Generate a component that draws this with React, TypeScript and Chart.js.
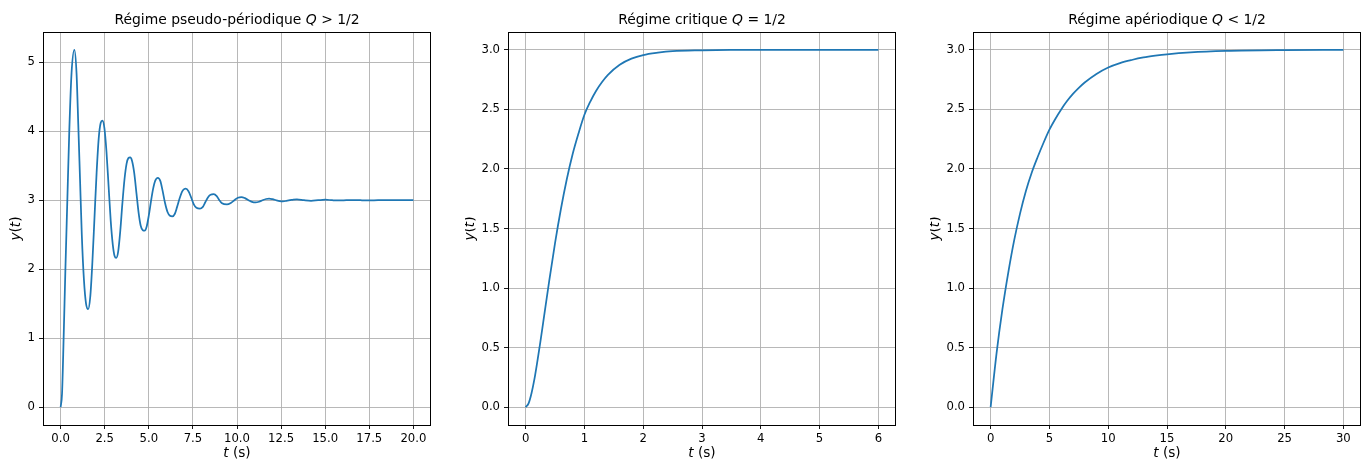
import React, { useEffect, useRef } from "react";
import { Chart, registerables } from "chart.js";

Chart.register(...registerables);

// ---- Data ----
const pseudoT = [
  0, 0.08, 0.17, 0.27, 0.38, 0.49, 0.62, 0.78, 0.9, 1.0, 1.1, 1.2, 1.32, 1.44, 1.56,
  1.68, 1.8, 1.92, 2.04, 2.16, 2.27, 2.37, 2.48, 2.6, 2.72, 2.84, 2.96, 3.06, 3.15,
  3.26, 3.38, 3.5, 3.62, 3.74, 3.84, 3.94, 4.05, 4.17, 4.3, 4.42, 4.54, 4.66, 4.76,
  4.88, 5.0, 5.12, 5.24, 5.36, 5.51, 5.65, 5.78, 5.92, 6.06, 6.2, 6.33, 6.47, 6.6,
  6.74, 6.88, 7.0, 7.1, 7.25, 7.4, 7.55, 7.7, 7.9, 8.05, 8.2, 8.35, 8.5, 8.68, 8.85,
  9.0, 9.15, 9.43, 9.65, 9.85, 10.05, 10.25, 10.45, 10.65, 10.85, 11.05, 11.25, 11.45,
  11.65, 11.82, 12.02, 12.22, 12.42, 12.6, 12.8, 13.0, 13.2, 13.4, 13.8, 14.2, 14.6,
  15.0, 15.4, 15.8, 16.2, 16.6, 17.0, 17.4, 18.0, 18.5, 19.0, 20.0,
];
const pseudoY = [
  0, 0.2, 1.0, 2.0, 3.0, 4.0, 4.85, 5.18, 4.85, 4.1, 3.3, 2.5, 1.85, 1.5, 1.42,
  1.6, 2.1, 2.75, 3.4, 3.9, 4.12, 4.155, 4.05, 3.7, 3.2, 2.7, 2.35, 2.19, 2.163,
  2.25, 2.55, 2.95, 3.3, 3.53, 3.61, 3.62, 3.57, 3.4, 3.1, 2.82, 2.63, 2.565, 2.559,
  2.62, 2.78, 2.98, 3.16, 3.28, 3.324, 3.28, 3.14, 2.96, 2.83, 2.775, 2.766, 2.8, 2.9,
  3.02, 3.12, 3.16, 3.168, 3.13, 3.04, 2.94, 2.89, 2.878, 2.9, 2.97, 3.04, 3.08, 3.088, 3.06,
  3.0, 2.955, 2.938, 2.96, 3.0, 3.035, 3.046, 3.03, 3.0, 2.975, 2.967, 2.978, 3.0,
  3.018, 3.024, 3.015, 3.0, 2.988, 2.984, 2.99, 3.0, 3.01, 3.013, 3.0, 2.992, 3.0,
  3.007, 3.0, 2.996, 3.0, 3.003, 3.0, 2.998, 3.0, 3.001, 3.0, 3.0,
];

const critT = [0, 0.05, 0.1, 0.15, 0.2, 0.25, 0.3, 0.4, 0.5, 0.6, 0.7, 0.8, 0.9, 1.0, 1.1, 1.2, 1.3, 1.4, 1.6, 1.8, 2.0, 2.25, 2.5, 3.0, 3.5, 4.0, 5.0, 6.0];
const critY = [0, 0.032, 0.117, 0.237, 0.386, 0.545, 0.715, 1.056, 1.377, 1.664, 1.914, 2.126, 2.3, 2.455, 2.566, 2.657, 2.73, 2.79, 2.875, 2.926, 2.956, 2.976, 2.989, 2.996, 2.999, 3.0, 3.0, 3.0];

const aperT = [0, 0.5, 1, 1.5, 2, 2.5, 3, 3.5, 4, 4.5, 5, 5.5, 6, 6.5, 7, 7.5, 8, 9, 10, 11, 12, 13, 14, 15, 17, 20, 25, 30];
const aperY = [0, 0.45, 0.82, 1.13, 1.4, 1.625, 1.815, 1.97, 2.1, 2.22, 2.33, 2.42, 2.5, 2.57, 2.63, 2.681, 2.726, 2.798, 2.852, 2.889, 2.915, 2.936, 2.951, 2.963, 2.979, 2.991, 2.998, 3.0];

const pseudoXTicks = [0, 2.5, 5, 7.5, 10, 12.5, 15, 17.5, 20];
const pseudoYTicks = [0, 1, 2, 3, 4, 5];
const critXTicks = [0, 1, 2, 3, 4, 5, 6];
const aperXTicks = [0, 5, 10, 15, 20, 25, 30];
const stepYTicks = [0, 0.5, 1, 1.5, 2, 2.5, 3];

type Seg = [string, boolean];

const titles: Seg[][] = [
  [["Régime pseudo-périodique ", false], ["Q", true], [" > 1/2", false]],
  [["Régime critique ", false], ["Q", true], [" = 1/2", false]],
  [["Régime apériodique ", false], ["Q", true], [" < 1/2", false]],
];
const xLabel: Seg[] = [["t", true], [" (s)", false]];
const yLabel: Seg[] = [["y", true], ["(", false], ["t", true], [")", false]];

const FONT = '"DejaVu Sans", sans-serif';
const TICK_SIZE = 11.67;
const LABEL_SIZE = 13.6;
const TITLE_SIZE = 13.9;
const CANVAS_W = 435;
const CANVAS_H = 462;
const PANEL_STEP = 465;

function drawSegs(ctx: CanvasRenderingContext2D, segs: Seg[], x: number, y: number, size: number) {
  const fonts = segs.map(([, it]) => `${it ? "italic " : ""}${size}px ${FONT}`);
  let total = 0;
  segs.forEach(([s], i) => {
    ctx.font = fonts[i];
    total += ctx.measureText(s).width;
  });
  let cx = x - total / 2;
  ctx.textAlign = "left";
  ctx.textBaseline = "alphabetic";
  ctx.fillStyle = "#000";
  segs.forEach(([s], i) => {
    ctx.font = fonts[i];
    ctx.fillText(s, cx, y);
    cx += ctx.measureText(s).width;
  });
}

function range(arr: number[]) {
  const mn = Math.min(...arr);
  const mx = Math.max(...arr);
  const m = (mx - mn) * 0.05;
  return [mn - m, mx + m];
}

type Panel = {
  t: number[];
  y: number[];
  xTicks: number[];
  yTicks: number[];
  xFmt: (v: number) => string;
  yFmt: (v: number) => string;
  title: Seg[];
};

const panels: Panel[] = [
  { t: pseudoT, y: pseudoY, xTicks: pseudoXTicks, yTicks: pseudoYTicks, xFmt: (v) => v.toFixed(1), yFmt: (v) => v.toFixed(0), title: titles[0] },
  { t: critT, y: critY, xTicks: critXTicks, yTicks: stepYTicks, xFmt: (v) => v.toFixed(0), yFmt: (v) => v.toFixed(1), title: titles[1] },
  { t: aperT, y: aperY, xTicks: aperXTicks, yTicks: stepYTicks, xFmt: (v) => v.toFixed(0), yFmt: (v) => v.toFixed(1), title: titles[2] },
];

function PanelChart({ panel, left }: { panel: Panel; left: number }) {
  const ref = useRef<HTMLCanvasElement | null>(null);
  useEffect(() => {
    if (!ref.current) return;
    const [xMin, xMax] = range(panel.t);
    const [yMin, yMax] = range(panel.y);
    const decor = {
      id: "decor",
      afterDraw(chart: any) {
        const ctx = chart.ctx as CanvasRenderingContext2D;
        const a = chart.chartArea;
        ctx.save();
        ctx.strokeStyle = "#000";
        ctx.lineWidth = 1;
        ctx.strokeRect(Math.round(a.left) + 0.5, Math.round(a.top) + 0.5, Math.round(a.right - a.left) - 1, Math.round(a.bottom - a.top));
        const cx = (a.left + a.right) / 2;
        drawSegs(ctx, panel.title, cx, 23.5, TITLE_SIZE);
        drawSegs(ctx, xLabel, cx, 457, LABEL_SIZE);
        // y label placed to the left of the widest tick label
        ctx.font = `${TICK_SIZE}px ${FONT}`;
        const maxW = Math.max(...panel.yTicks.map((v) => ctx.measureText(panel.yFmt(v)).width));
        const bx = a.left - 8 - maxW - 7.5;
        ctx.translate(bx, (a.top + a.bottom) / 2);
        ctx.rotate(-Math.PI / 2);
        drawSegs(ctx, yLabel, 0, 0, LABEL_SIZE);
        ctx.restore();
      },
    };
    const chart = new Chart(ref.current, {
      type: "line",
      data: {
        datasets: [
          {
            data: panel.t.map((t, i) => ({ x: t, y: panel.y[i] })),
            borderColor: "#1f77b4",
            borderWidth: 1.75,
            pointRadius: 0,
            fill: false,
            cubicInterpolationMode: "monotone",
          },
        ],
      },
      options: {
        animation: false,
        responsive: false,
        devicePixelRatio: 1,
        layout: { padding: { top: 32, right: 4, left: 0, bottom: 0 } },
        plugins: { legend: { display: false }, tooltip: { enabled: false }, title: { display: false } },
        scales: {
          x: {
            type: "linear",
            min: xMin,
            max: xMax,
            afterBuildTicks: (s: any) => {
              s.ticks = panel.xTicks.map((v) => ({ value: v }));
            },
            afterFit: (s: any) => {
              s.height = CANVAS_H - 425;
            },
            grid: { color: "#b0b0b0", lineWidth: 0.9, tickColor: "#000", tickLength: 4, drawOnChartArea: true },
            border: { display: false },
            ticks: {
              font: { family: FONT, size: TICK_SIZE },
              color: "#000",
              padding: 3,
              maxRotation: 0,
              autoSkip: false,
              callback: (v: any) => panel.xFmt(Number(v)),
            },
          },
          y: {
            type: "linear",
            min: yMin,
            max: yMax,
            afterBuildTicks: (s: any) => {
              s.ticks = panel.yTicks.map((v) => ({ value: v }));
            },
            afterFit: (s: any) => {
              s.width = 43;
            },
            grid: { color: "#b0b0b0", lineWidth: 0.9, tickColor: "#000", tickLength: 4, drawOnChartArea: true },
            border: { display: false },
            ticks: {
              font: { family: FONT, size: TICK_SIZE },
              color: "#000",
              padding: 4,
              autoSkip: false,
              callback: (v: any) => panel.yFmt(Number(v)),
            },
          },
        },
      },
      plugins: [decor],
    } as any);
    return () => chart.destroy();
  }, [panel]);
  return (
    <canvas
      ref={ref}
      width={CANVAS_W}
      height={CANVAS_H}
      style={{ position: "absolute", left, top: 0, width: CANVAS_W, height: CANVAS_H }}
    />
  );
}

export default function App() {
  return (
    <div style={{ position: "fixed", left: 0, top: 0, width: 1365, height: 462, background: "#fff", overflow: "hidden" }}>
      {panels.map((p, i) => (
        <PanelChart key={i} panel={p} left={i * PANEL_STEP} />
      ))}
    </div>
  );
}
